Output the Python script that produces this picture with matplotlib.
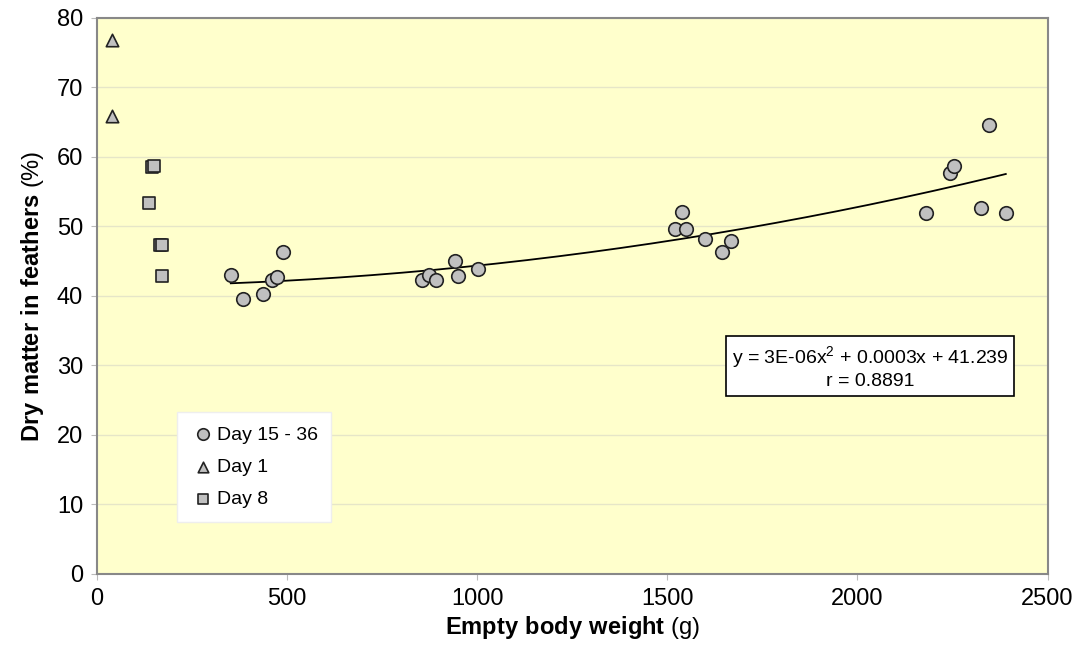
import matplotlib
matplotlib.use("Agg")
import matplotlib.pyplot as plt
import numpy as np

plt.rcParams["font.family"] = ["Liberation Sans", "DejaVu Sans"]
plt.rcParams["mathtext.fontset"] = "custom"
plt.rcParams["mathtext.rm"] = "Liberation Sans"
plt.rcParams["mathtext.bf"] = "Liberation Sans:bold"

# Day 15 - 36
x_d15 = [352, 384, 436, 460, 473, 489, 854, 873, 891, 941, 949, 1002,
         1519, 1538, 1548, 1598, 1643, 1667, 2179, 2242, 2255, 2326, 2345, 2390]
y_d15 = [43.0, 39.6, 40.3, 42.2, 42.7, 46.3, 42.2, 43.0, 42.2, 45.0, 42.9, 43.9,
         49.6, 52.1, 49.6, 48.1, 46.3, 47.9, 51.9, 57.7, 58.7, 52.7, 64.6, 51.9]
# Day 1
x_d1 = [40, 40]
y_d1 = [76.8, 65.9]
# Day 8
x_d8 = [146, 149, 137, 166, 170, 171]
y_d8 = [58.5, 58.7, 53.4, 47.3, 47.3, 42.9]

fig = plt.figure(figsize=(10.89, 6.58), dpi=100)
ax = fig.add_axes([0.089, 0.128, 0.873, 0.845])
ax.set_facecolor("#FFFFCC")

marker_kw = dict(facecolor="#C0C0C0", edgecolor="#222222", linewidths=1.2, zorder=3)
ax.scatter(x_d15, y_d15, marker="o", s=95, label="Day 15 - 36", **marker_kw)
ax.scatter(x_d1, y_d1, marker="^", s=80, label="Day 1", **marker_kw)
ax.scatter(x_d8, y_d8, marker="s", s=85, label="Day 8", **marker_kw)

# polynomial trendline for Day 15 - 36
coef = np.polyfit(x_d15, y_d15, 2)
xs = np.linspace(min(x_d15), max(x_d15), 200)
ax.plot(xs, np.polyval(coef, xs), color="black", lw=1.3, zorder=2)

ax.set_xlim(0, 2500)
ax.set_ylim(0, 80)
ax.set_xticks(np.arange(0, 2501, 500))
ax.set_yticks(np.arange(0, 81, 10))
ax.tick_params(labelsize=17, length=4, color="#BBBBBB", pad=6)
ax.grid(axis="y", color="#E6E6C8", lw=1)
ax.set_axisbelow(True)
for s in ax.spines.values():
    s.set_color("#888888")
    s.set_linewidth(1.5)

ax.set_xlabel(r"$\mathbf{Empty\ body\ weight}$ (g)", fontsize=17, labelpad=3)
ax.set_ylabel(r"$\mathbf{Dry\ matter\ in\ feathers}$ (%)", fontsize=17, labelpad=8)

ax.text(2033, 29.7, "y = 3E-06x$^2$ + 0.0003x + 41.239\nr = 0.8891",
        ha="center", va="center", multialignment="center", fontsize=14,
        bbox=dict(boxstyle="square,pad=0.3", facecolor="white", edgecolor="black", lw=1.2),
        zorder=4)

leg = ax.legend(loc="lower left", bbox_to_anchor=(0.084, 0.094), borderaxespad=0,
                fontsize=14, frameon=True, fancybox=False, handletextpad=0.05,
                borderpad=0.7, labelspacing=0.75, handlelength=1.3, markerscale=0.85)
leg.get_frame().set_edgecolor("#EEEEEE")
leg.get_frame().set_facecolor("white")
leg.get_frame().set_alpha(1)

fig.savefig("out.png", dpi=100)
